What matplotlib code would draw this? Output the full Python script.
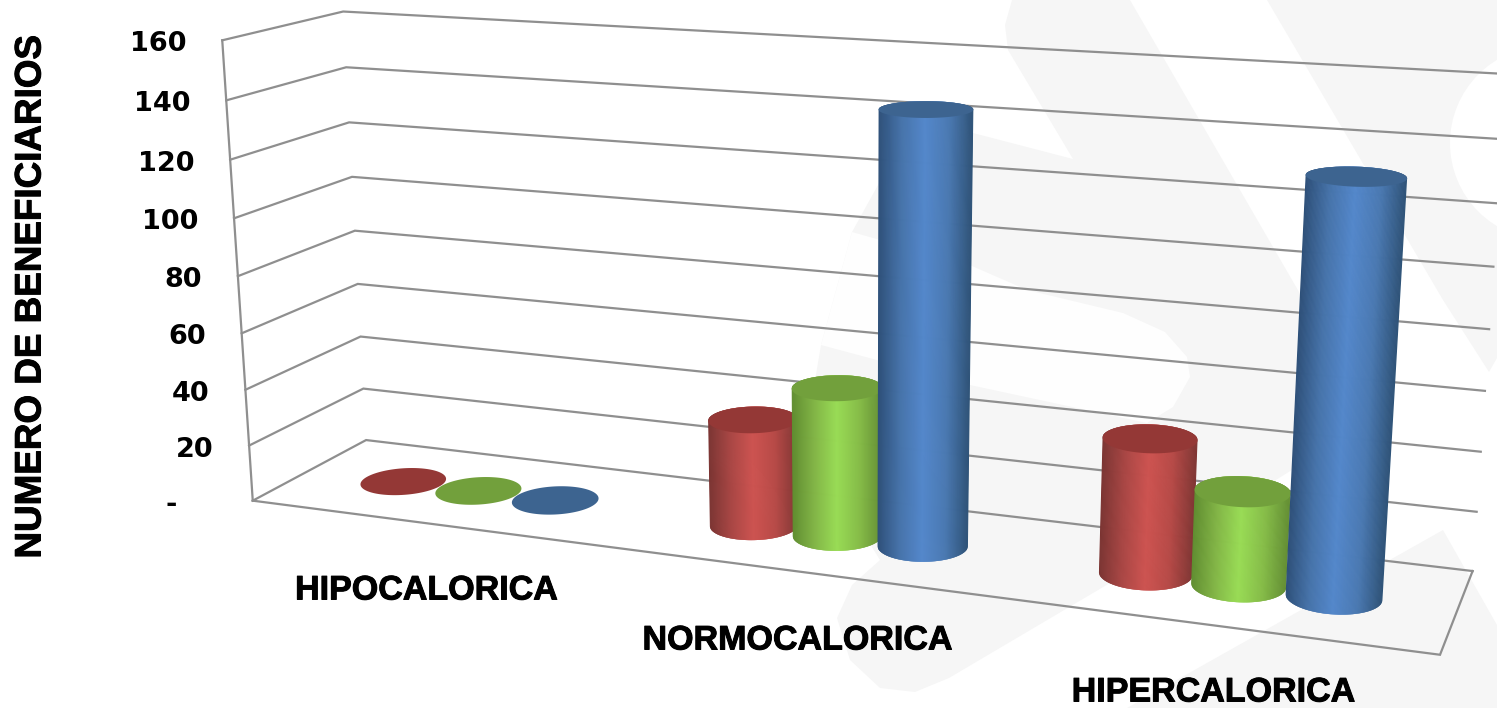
import numpy as np
import matplotlib
matplotlib.use("Agg")
import matplotlib.pyplot as plt
import matplotlib.patheffects as pe
from matplotlib.patches import Polygon, Circle
from matplotlib.collections import PolyCollection
from matplotlib.colors import LinearSegmentedColormap

# ---- data ----
categories = ["HIPOCALORICA", "NORMOCALORICA", "HIPERCALORICA"]
red_values = [0, 37, 45]
green_values = [0, 51, 31]
blue_values = [0, 145, 133]
ytick_values = [0, 20, 40, 60, 80, 100, 120, 140, 160]
ytick_labels = ["-", "20", "40", "60", "80", "100", "120", "140", "160"]
ylabel = "NUMERO DE BENEFICIARIOS"

# ---- camera calibration: (u, d, value) -> pixel ----
front_left_y = [501, 445, 390, 333, 276, 218, 160, 101, 40]
front_left_x = [252, 249, 246, 242, 239, 234, 230.5, 226, 221]
back_left_y = [440, 389, 337, 284, 230, 177, 122, 67, 12]
back_left_x = [366, 363, 361, 357, 355, 352, 349, 347, 343]
world, image = [], []
for i, v in enumerate(ytick_values):
    world.append((0, 1, v)); image.append((front_left_x[i], front_left_y[i]))
    world.append((0, 0, v)); image.append((back_left_x[i], back_left_y[i]))
for v, x, y in [(0, 1473, 571), (20, 1477, 512), (40, 1480, 451), (100, 1493, 267), (160, 1507, 74)]:
    world.append((1, 0, v)); image.append((x, y))
world.append((1, 1, 0)); image.append((1440, 655))

A, b = [], []
for (u, d, v), (x, y) in zip(world, image):
    w = v / 160
    A.append([u, d, w, 1, 0, 0, 0, 0, -x*u, -x*d, -x*w]); b.append(x)
    A.append([0, 0, 0, 0, u, d, w, 1, -y*u, -y*d, -y*w]); b.append(y)
p = np.linalg.lstsq(np.array(A, float), np.array(b, float), rcond=None)[0]
P = np.array([p[:4], p[4:8], [p[8], p[9], p[10], 1.0]])


def project(u, d, v):
    u, d, v = np.broadcast_arrays(np.asarray(u, float), np.asarray(d, float), np.asarray(v, float))
    h = np.stack([u, d, v / 160, np.ones_like(u, dtype=float)])
    q = P @ h.reshape(4, -1)
    return (q[0] / q[2]).reshape(u.shape), (q[1] / q[2]).reshape(u.shape)


def convex_hull(points):
    pts = sorted(set(map(tuple, points)))

    def half(seq):
        out = []
        for q in seq:
            while len(out) >= 2 and ((out[-1][0] - out[-2][0]) * (q[1] - out[-2][1])
                                     - (out[-1][1] - out[-2][1]) * (q[0] - out[-2][0])) <= 0:
                out.pop()
            out.append(q)
        return out[:-1]

    return half(pts) + half(pts[::-1])


fig = plt.figure(figsize=(14.97, 7.08), dpi=100)
ax = fig.add_axes([0, 0, 1, 1])
ax.set_xlim(0, 1497)
ax.set_ylim(708, 0)
ax.axis("off")

# ---- faint watermark ----
wm = "#f6f6f6"
shapes = [
    [(1012, 0), (1130, 0), (1350, 380), (1300, 465), (1110, 583), (949, 678), (915, 692), (880, 688),
     (850, 660), (837, 618), (852, 585), (880, 560), (805, 440), (821, 345), (852, 232), (878, 185),
     (905, 120), (973, 133), (1073, 159), (1008, 50), (1005, 25)],
    [(1267, 0), (1497, 0), (1497, 358), (1489, 372), (1443, 300)],
    [(1127, 708), (1443, 530), (1497, 625), (1497, 708)],
]
for s in shapes:
    ax.add_patch(Polygon(s, closed=True, fc=wm, ec="none", zorder=0))
ax.add_patch(Circle((1547, 143), 97, fc="white", ec="none", zorder=0.1))
ax.add_patch(Polygon([(852, 232), (972, 266), (1027, 290), (1123, 313), (1165, 332), (1187, 357), (1190, 377),
                      (1173, 407), (1147, 423), (970, 385), (821, 345)],
                     closed=True, fc="#fefefe", ec="none", zorder=0.1))

# ---- frame and gridlines ----
grid = "#8f8f8f"
lw = 1.6
for v in ytick_values:
    xs, ys = project([0, 0, 1], [1, 0, 0], [v, v, v])
    ax.plot(xs, ys, color=grid, lw=lw, zorder=1, solid_joinstyle="miter")
xs, ys = project([0, 0], [1, 1], [0, 160])
ax.plot(xs, ys, color=grid, lw=lw, zorder=1)
xs, ys = project([0, 1, 1], [1, 1, 0], [0, 0, 0])
ax.plot(xs, ys, color=grid, lw=lw, zorder=1, solid_joinstyle="miter")

# ---- cylinders ----
series = [
    (red_values, "#943836", ["#7a3432", "#a94644", "#cd5350", "#b74a47", "#803634"]),
    (green_values, "#72a03c", ["#5f8c30", "#82b546", "#99dc55", "#86bd48", "#648f34"]),
    (blue_values, "#3d6490", ["#2d4f78", "#4673aa", "#5387cb", "#4a79b2", "#2f5378"]),
]
centers = [0.168, 0.5, 5 / 6]
offset = 0.074
ru, rd = 0.0365, 0.205
dc = 0.51
theta_all = np.linspace(0, 2*np.pi, 181)
strips = np.linspace(0, 1, 91)

for s, (values, top_col, grad) in enumerate(series):
    cmap = LinearSegmentedColormap.from_list("c", grad)
    for c, val in zip(centers, values):
        uc = c + (s - 1) * offset
        ue = uc + ru * np.cos(theta_all)
        de = dc + rd * np.sin(theta_all)
        xt, yt = project(ue, de, val)
        if val > 0:
            xb, yb = project(ue, de, 0)
            hull = convex_hull(np.r_[np.c_[xt, yt], np.c_[xb, yb]])
            ytc, ybc = yt.mean(), yb.mean()
            ylo, yhi = yt.min() - 5, yb.max() + 5


            def edge_x(t, y):
                xa = xt.min() + t * (xt.max() - xt.min())
                xc = xb.min() + t * (xb.max() - xb.min())
                return xa + (xc - xa) * (y - ytc) / (ybc - ytc)


            polys = [[(edge_x(t0, ylo), ylo), (edge_x(t1, ylo), ylo), (edge_x(t1, yhi), yhi), (edge_x(t0, yhi), yhi)]
                     for t0, t1 in zip(strips[:-1], strips[1:])]
            # widen the outer strips so that the hull is always covered
            polys[0][0] = (polys[0][0][0] - 6, ylo)
            polys[0][3] = (polys[0][3][0] - 6, yhi)
            polys[-1][1] = (polys[-1][1][0] + 6, ylo)
            polys[-1][2] = (polys[-1][2][0] + 6, yhi)
            cols = [cmap((a + e) / 2) for a, e in zip(strips[:-1], strips[1:])]
            body = PolyCollection(polys, facecolors=cols, edgecolors=cols, linewidths=0.6,
                                  zorder=2 + s * 0.1)
            ax.add_collection(body)
            body.set_clip_path(Polygon(hull, closed=True, transform=ax.transData))
        ax.fill(xt, yt, color=top_col, lw=0, zorder=2.05 + s * 0.1)

# ---- text ----
tick_font = dict(family="DejaVu Sans", fontweight="bold", fontsize=19.5, color="black")
for v, lab in zip(ytick_values, ytick_labels):
    x, y = project(0, 1, v)
    tx = 177 if v == 0 else float(x) - 36
    ax.text(tx, float(y) + 4, lab, ha="right", va="center", **tick_font)

heavy = [pe.withStroke(linewidth=0.7, foreground="black")]
label_pos = [(426, 591), (797, 641), (1213, 693)]
for lab, (x, y) in zip(categories, label_pos):
    ax.text(x, y, lab, ha="center", va="center", family="Liberation Sans", fontweight="bold",
            fontsize=24.5, color="black", path_effects=heavy)
ax.text(31, 297, ylabel, rotation=90, ha="center", va="center", family="Liberation Sans",
        fontweight="bold", fontsize=26.5, color="black", path_effects=heavy)

fig.savefig("out.png", dpi=100)
